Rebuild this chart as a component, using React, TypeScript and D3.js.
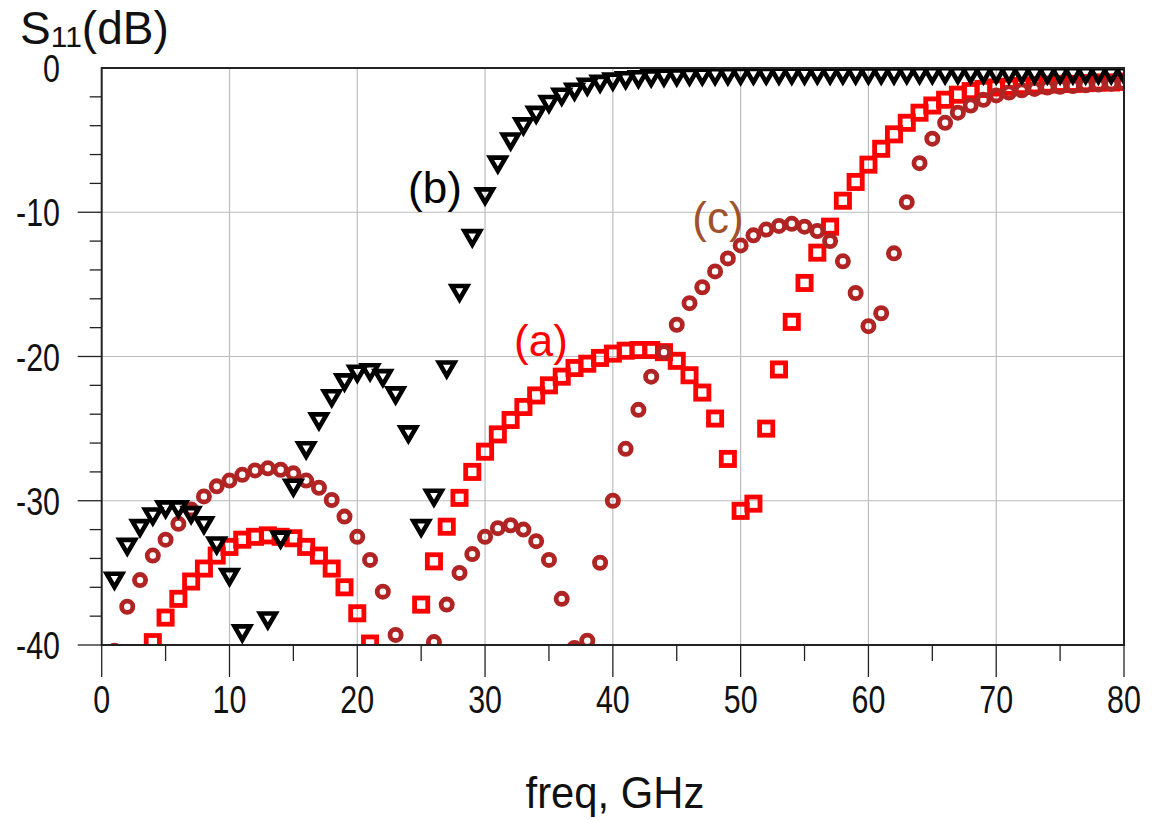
import React from 'react';
import * as d3 from 'd3';

// Frequency sweep points (GHz)
const FREQ_GHZ = [
  1, 2, 3, 4, 5, 6, 7, 8, 9, 10, 11, 12, 13, 14, 15, 16, 17, 18, 19, 20,
  21, 22, 23, 24, 25, 26, 27, 28, 29, 30, 31, 32, 33, 34, 35, 36, 37, 38, 39, 40,
  41, 42, 43, 44, 45, 46, 47, 48, 49, 50, 51, 52, 53, 54, 55, 56, 57, 58, 59, 60,
  61, 62, 63, 64, 65, 66, 67, 68, 69, 70, 71, 72, 73, 74, 75, 76, 77, 78, 79, 80,
];

// (a) red squares, S11 in dB (null = below -40 dB)
const S11_A: (number | null)[] = [
  null, null, null, -39.8, -38.1, -36.8, -35.6, -34.7, -33.8, -33.2,
  -32.7, -32.5, -32.4, -32.5, -32.6, -33.2, -33.8, -34.7, -36.0, -37.8,
  -39.9, null, null, null, -37.2, -34.2, -31.8, -29.8, -28.0, -26.6,
  -25.4, -24.4, -23.5, -22.7, -22.0, -21.4, -20.8, -20.5, -20.1, -19.8,
  -19.6, -19.55, -19.55, -19.7, -20.3, -21.3, -22.5, -24.3, -27.1, -30.7,
  -30.2, -25.0, -20.9, -17.6, -14.9, -12.8, -11.0, -9.2, -7.9, -6.7,
  -5.6, -4.6, -3.8, -3.1, -2.6, -2.2, -1.85, -1.6, -1.45, -1.35,
  -1.3, -1.25, -1.2, -1.15, -1.1, -1.1, -1.05, -1.0, -1.0, -0.95,
];

// (b) black triangles
const S11_B: (number | null)[] = [
  -35.45, -33.1, -31.8, -31.0, -30.5, -30.5, -30.9, -31.6, -33.0, -35.2,
  -39.1, null, -38.2, -32.6, -29.0, -26.4, -24.4, -22.8, -21.7, -21.1,
  -21.0, -21.4, -22.6, -25.3, -31.8, -29.7, -20.8, -15.5, -11.7, -8.8,
  -6.6, -5.0, -3.95, -3.15, -2.4, -1.9, -1.55, -1.2, -1.0, -0.85,
  -0.75, -0.68, -0.62, -0.58, -0.55, -0.52, -0.5, -0.48, -0.47, -0.46,
  -0.45, -0.45, -0.44, -0.44, -0.44, -0.43, -0.43, -0.43, -0.42, -0.42,
  -0.42, -0.42, -0.41, -0.41, -0.41, -0.41, -0.41, -0.4, -0.4, -0.4,
  -0.4, -0.4, -0.4, -0.4, -0.4, -0.4, -0.4, -0.4, -0.4, -0.4,
];

// (c) brown circles
const S11_C: (number | null)[] = [
  -40.4, -37.35, -35.5, -33.8, -32.7, -31.6, -30.6, -29.7, -29.0, -28.6,
  -28.2, -27.9, -27.75, -27.85, -28.1, -28.6, -29.1, -29.95, -31.1, -32.5,
  -34.1, -36.3, -39.3, null, null, -39.8, -37.2, -35.0, -33.7, -32.5,
  -31.9, -31.7, -32.0, -32.8, -34.1, -36.8, -40.2, -39.7, -34.3, -30.0,
  -26.4, -23.7, -21.4, -19.7, -17.8, -16.3, -15.2, -14.1, -13.2, -12.3,
  -11.6, -11.2, -10.95, -10.8, -11.0, -11.3, -12.0, -13.4, -15.6, -17.9,
  -17.0, -12.85, -9.3, -6.6, -4.9, -3.8, -3.1, -2.6, -2.2, -1.9,
  -1.7, -1.55, -1.45, -1.35, -1.3, -1.25, -1.2, -1.15, -1.1, -1.05,
];

const X_TICKS = [0, 10, 20, 30, 40, 50, 60, 70, 80];
const X_MINOR = [5, 15, 25, 35, 45, 55, 65, 75];
const Y_TICKS = [0, -10, -20, -30, -40];
const Y_MINOR = [-2, -4, -6, -8, -12, -14, -16, -18, -22, -24, -26, -28, -32, -34, -36, -38];

const COLOR_A = '#ff0000';
const COLOR_B = '#000000';
const COLOR_C = '#b02424';
const COLOR_C_LABEL = '#a0522d';

const FONT = '"Liberation Sans", Arial, sans-serif';

export default function App() {
  const W = 1152;
  const H = 820;
  const x = d3.scaleLinear().domain([0, 80]).range([101.7, 1124]);
  const y = d3.scaleLinear().domain([-40, 0]).range([645, 68]);
  const [x0, x1] = x.range();
  const [yb, yt] = y.range();

  const pts = (vals: (number | null)[]) =>
    FREQ_GHZ.map((f, i) => ({ f, v: vals[i] })).filter((d) => d.v !== null) as { f: number; v: number }[];

  const sq = 6.6;
  const triPath = 'M-7.8,-5.6 L7.8,-5.6 L0,7.8 Z';

  return (
    <svg
      width={W}
      height={H}
      style={{ position: 'absolute', left: 0, top: 0, background: '#fff' }}
      fontFamily={FONT}
    >
      <defs>
        <clipPath id="plotclip">
          <rect x={x0} y={yt} width={x1 - x0} height={yb - yt} />
        </clipPath>
      </defs>
      <rect x={0} y={0} width={W} height={H} fill="#fff" />

      {/* grid */}
      {X_TICKS.slice(1, -1).map((t) => (
        <line key={'gx' + t} x1={x(t)} x2={x(t)} y1={yt} y2={yb} stroke="#bdbdbd" strokeWidth={1.2} />
      ))}
      {Y_TICKS.slice(1, -1).map((t) => (
        <line key={'gy' + t} x1={x0} x2={x1} y1={y(t)} y2={y(t)} stroke="#bdbdbd" strokeWidth={1.2} />
      ))}

      {/* ticks */}
      {X_TICKS.map((t) => (
        <line key={'tx' + t} x1={x(t)} x2={x(t)} y1={yb} y2={yb + 32} stroke="#222" strokeWidth={1.3} />
      ))}
      {X_MINOR.map((t) => (
        <line key={'mx' + t} x1={x(t)} x2={x(t)} y1={yb} y2={yb + 16} stroke="#222" strokeWidth={1.3} />
      ))}
      {Y_TICKS.slice(1).map((t) => (
        <line key={'ty' + t} x1={x0 - 24} x2={x0} y1={y(t)} y2={y(t)} stroke="#222" strokeWidth={1.3} />
      ))}
      {Y_MINOR.map((t) => (
        <line key={'my' + t} x1={x0 - 12} x2={x0} y1={y(t)} y2={y(t)} stroke="#222" strokeWidth={1.3} />
      ))}

      {/* data */}
      <g clipPath="url(#plotclip)">
        {pts(S11_A).map((d) => (
          <rect
            key={'a' + d.f}
            x={x(d.f) - sq}
            y={y(d.v) - sq}
            width={sq * 2}
            height={sq * 2}
            fill="none"
            stroke={COLOR_A}
            strokeWidth={4.8}
          />
        ))}
        {pts(S11_C).map((d) => (
          <circle key={'c' + d.f} cx={x(d.f)} cy={y(d.v)} r={5.6} fill="none" stroke={COLOR_C} strokeWidth={4.8} />
        ))}
        {pts(S11_B).map((d) => (
          <path
            key={'b' + d.f}
            d={triPath}
            transform={`translate(${x(d.f)},${y(d.v)})`}
            fill="none"
            stroke={COLOR_B}
            strokeWidth={4.6}
            strokeLinejoin="miter"
          />
        ))}
      </g>

      {/* frame */}
      <rect x={x0} y={yt} width={x1 - x0} height={yb - yt} fill="none" stroke="#222" strokeWidth={2} />

      {/* tick labels */}
      {X_TICKS.map((t) => (
        <text
          key={'lx' + t}
          transform={`translate(${x(t)},713) scale(0.8,1)`}
          textAnchor="middle"
          fontSize={38}
          fill="#111"
        >
          {String(t)}
        </text>
      ))}
      {Y_TICKS.map((t) => (
        <text
          key={'ly' + t}
          transform={`translate(60,${y(t) + 14}) scale(0.8,1)`}
          textAnchor="end"
          fontSize={38}
          fill="#111"
        >
          {String(t)}
        </text>
      ))}

      {/* axis titles */}
      <text transform="translate(615,808) scale(0.95,1)" textAnchor="middle" fontSize={44} fill="#111">
        freq, GHz
      </text>
      <text x={20} y={44} fontSize={46} fill="#111">
        S
        <tspan fontSize={30} dy={3}>11</tspan>
        <tspan fontSize={46} dy={-3}>(dB)</tspan>
      </text>

      {/* curve labels */}
      <text x={435} y={203} textAnchor="middle" fontSize={44} fill={COLOR_B}>(b)</text>
      <text x={541} y={356} textAnchor="middle" fontSize={44} fill={COLOR_A}>(a)</text>
      <text x={718} y={233} textAnchor="middle" fontSize={44} fill={COLOR_C_LABEL}>(c)</text>
    </svg>
  );
}
